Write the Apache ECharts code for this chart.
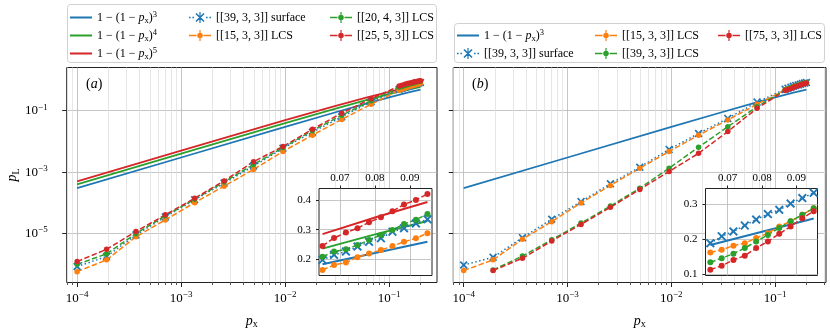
<!DOCTYPE html>
<html>
<head>
<meta charset="utf-8">
<script src="https://cdn.jsdelivr.net/npm/echarts@6/dist/echarts.min.js"></script>
<style>
  html, body { margin: 0; padding: 0; background: #fff; }
  #chart { width: 830px; height: 332px; }
</style>
</head>
<body>
<div id="chart"></div>
<script>
// ---- data (main panels, log-log) ----
const pxMain = [1e-4, 1.92e-4, 3.68e-4, 7.05e-4, 1.35e-3, 2.59e-3, 4.97e-3, 9.53e-3, 1.83e-2, 3.5e-2, 6.7e-2,
  0.125, 0.133, 0.142, 0.15, 0.158, 0.167, 0.175, 0.183, 0.192, 0.2]

// panel (a)
const aSurface = [8.5e-7, 1.8e-6, 9.1e-6, 3.5e-5, 1.26e-4, 4.4e-4, 1.58e-3, 6.0e-3, 2.0e-2, 6.3e-2, 0.195,
  0.50, 0.54, 0.575, 0.615, 0.65, 0.69, 0.72, 0.76, 0.79, 0.83]
const aLcs15 = [5.8e-7, 1.4e-6, 7.9e-6, 2.8e-5, 1.02e-4, 3.5e-4, 1.23e-3, 4.7e-3, 1.6e-2, 5.2e-2, 0.162,
  0.46, 0.50, 0.535, 0.575, 0.615, 0.645, 0.675, 0.71, 0.74, 0.78]
const aLcs20 = [1.0e-6, 2.2e-6, 1.0e-5, 3.8e-5, 1.32e-4, 4.8e-4, 1.78e-3, 6.3e-3, 2.24e-2, 7.1e-2, 0.209,
  0.575, 0.615, 0.66, 0.70, 0.74, 0.775, 0.81, 0.85, 0.89, 0.91]
const aLcs25 = [1.23e-6, 3.1e-6, 1.17e-5, 4.1e-5, 1.41e-4, 5.2e-4, 2.2e-3, 6.8e-3, 2.5e-2, 8.3e-2, 0.245,
  0.63, 0.675, 0.72, 0.76, 0.80, 0.83, 0.87, 0.89, 0.93, 0.95]

// panel (b)
const bSurface = [9.5e-7, 1.7e-6, 7.4e-6, 2.95e-5, 1.1e-4, 4.2e-4, 1.45e-3, 5.5e-3, 1.82e-2, 5.6e-2, 0.19,
  0.50, 0.54, 0.58, 0.62, 0.66, 0.69, 0.72, 0.76, 0.79, 0.83]
const bLcs15 = [6.3e-7, 1.4e-6, 6.6e-6, 2.45e-5, 1.0e-4, 3.7e-4, 1.35e-3, 4.7e-3, 1.6e-2, 5.0e-2, 0.162,
  0.48, 0.52, 0.56, 0.60, 0.64, 0.68, 0.71, 0.75, 0.78, 0.81]
const bLcs39 = [null, 6.6e-7, 1.86e-6, 6.3e-6, 2.2e-5, 7.9e-5, 3.0e-4, 1.35e-3, 6.5e-3, 3.0e-2, 0.135,
  0.47, 0.51, 0.55, 0.59, 0.63, 0.67, 0.71, 0.75, 0.78, 0.82]
const bLcs75 = [null, 6.3e-7, 1.58e-6, 5.8e-6, 2.0e-5, 7.2e-5, 2.75e-4, 1.05e-3, 4.1e-3, 2.1e-2, 0.12,
  0.45, 0.49, 0.53, 0.57, 0.61, 0.65, 0.69, 0.73, 0.77, 0.80]

// 1 - (1 - px)^n, read at a few px
const pxTheory = [1e-4, 1e-3, 1e-2, 0.03, 0.06, 0.1, 0.15, 0.2]
const theory3 = [3.0e-4, 3.0e-3, 0.0297, 0.0873, 0.169, 0.271, 0.386, 0.488]
const theory4 = [4.0e-4, 4.0e-3, 0.0394, 0.115, 0.219, 0.344, 0.478, 0.590]
const theory5 = [5.0e-4, 5.0e-3, 0.049, 0.141, 0.266, 0.410, 0.556, 0.672]

// ---- insets (linear) ----
const pxInset = [0.065, 0.0683, 0.0717, 0.075, 0.0783, 0.0817, 0.085, 0.0883, 0.0917, 0.095]
const aInSurface = [0.198, 0.215, 0.226, 0.243, 0.259, 0.271, 0.293, 0.305, 0.321, 0.335]
const aInLcs15 = [0.164, 0.181, 0.189, 0.207, 0.220, 0.231, 0.245, 0.259, 0.271, 0.288]
const aInLcs20 = [0.209, 0.226, 0.234, 0.248, 0.265, 0.282, 0.299, 0.319, 0.333, 0.353]
const aInLcs25 = [0.245, 0.272, 0.290, 0.305, 0.325, 0.342, 0.362, 0.385, 0.400, 0.420]
const bInSurface = [0.188, 0.208, 0.222, 0.239, 0.256, 0.272, 0.284, 0.302, 0.318, 0.333]
const bInLcs15 = [0.161, 0.169, 0.181, 0.188, 0.203, 0.217, 0.236, 0.251, 0.270, 0.289]
const bInLcs39 = [0.133, 0.145, 0.158, 0.174, 0.193, 0.212, 0.232, 0.251, 0.270, 0.289]
const bInLcs75 = [0.112, 0.123, 0.140, 0.152, 0.174, 0.193, 0.215, 0.236, 0.260, 0.280]
const pxInTheory = [0.065, 0.08, 0.095]
const inTheory3 = [0.183, 0.221, 0.259]
const inTheory4 = [0.236, 0.284, 0.329]
const inTheory5 = [0.285, 0.341, 0.393]

// ---- ticks ----
const xMajor = [-4, -3, -2, -1]   // log10(px)
const yMajor = [-5, -3, -1]       // log10(pL)
const xMinor = []
for (let d = -5; d <= -1; d++) {
  for (let k = 2; k <= 9; k++) xMinor.push(d + Math.log10(k))
}
const insetXTicks = [0.07, 0.08, 0.09]
const aInsetYTicks = [0.2, 0.3, 0.4]
const bInsetYTicks = [0.1, 0.2, 0.3]

// ---- styling ----
const serif = 'Liberation Serif'
const C = { blue: '#1f77b4', orange: '#ff7f0e', green: '#2ca02c', red: '#d62728' }
const xMarker = 'path://M1.5,0L5,3.5L8.5,0L10,1.5L6.5,5L10,8.5L8.5,10L5,6.5L1.5,10L0,8.5L3.5,5L0,1.5Z'

const powRich = {
  b: { fontFamily: serif, fontSize: 13, lineHeight: 16, color: '#000' },
  s: { fontFamily: serif, fontSize: 9, lineHeight: 9, verticalAlign: 'top', color: '#000' },
}
const powLabel = (v) => `{b|10}{s|−${Math.abs(Math.round(v))}}`
const nameRich = {
  i: { fontFamily: serif, fontSize: 14, fontStyle: 'italic', lineHeight: 17, color: '#000' },
  sub: { fontFamily: serif, fontSize: 10, lineHeight: 10, verticalAlign: 'bottom', color: '#000' },
}

const logData = (xs, ys) => xs
  .map((x, i) => [x, ys[i]])
  .filter((d) => d[1] != null)
  .map(([x, y]) => [Math.log10(x), Math.log10(y)])
const linData = (xs, ys) => xs.map((x, i) => [x, ys[i]])

// series names -> legend text
const N = {
  t3: '1-(1-px)^3', t4: '1-(1-px)^4', t5: '1-(1-px)^5',
  surf: '[[39,3,3]] surface',
  l15: '[[15,3,3]] LCS', l20: '[[20,4,3]] LCS', l25: '[[25,5,3]] LCS',
  l39: '[[39,3,3]] LCS', l75: '[[75,3,3]] LCS',
}
const legendText = {
  [N.t3]: '{n|1 − (1 − }{i|p}{sub|x}{n|)}{sup|3}',
  [N.t4]: '{n|1 − (1 − }{i|p}{sub|x}{n|)}{sup|4}',
  [N.t5]: '{n|1 − (1 − }{i|p}{sub|x}{n|)}{sup|5}',
  [N.surf]: '[[39, 3, 3]] surface',
  [N.l15]: '[[15, 3, 3]] LCS',
  [N.l20]: '[[20, 4, 3]] LCS',
  [N.l25]: '[[25, 5, 3]] LCS',
  [N.l39]: '[[39, 3, 3]] LCS',
  [N.l75]: '[[75, 3, 3]] LCS',
}
const legendRich = {
  n: { fontFamily: serif, fontSize: 12, lineHeight: 15, color: '#000' },
  i: { fontFamily: serif, fontSize: 12, fontStyle: 'italic', lineHeight: 15, color: '#000' },
  sub: { fontFamily: serif, fontSize: 8.5, lineHeight: 9, verticalAlign: 'bottom', color: '#000' },
  sup: { fontFamily: serif, fontSize: 8.5, lineHeight: 9, verticalAlign: 'top', color: '#000' },
}

// legend icons, drawn in a 22x12 box (corner specks keep the box size)
const guard = 'M0,0h0.01v0.01h-0.01Z M21.99,11.99h0.01v0.01h-0.01Z '
const iconLine = 'path://' + guard + 'M0,5.1H22V6.9H0Z'
const iconLcs = 'path://' + guard +
  'M0,5.2H7.5V6.8H0Z M14.5,5.2H22V6.8H14.5Z ' +
  'M8.2,6A2.8,2.8 0 1 1 13.8,6A2.8,2.8 0 1 1 8.2,6Z M10.4,0.5H11.6V11.5H10.4Z'
const iconSurf = 'path://' + guard +
  'M0,5.3h1.6v1.4h-1.6Z M3.4,5.3h1.6v1.4h-1.6Z M17,5.3h1.6v1.4h-1.6Z M20.4,5.3h1.6v1.4h-1.6Z ' +
  'M7.57,1.43L15.57,9.43L14.43,10.57L6.43,2.57Z M14.43,1.43L15.57,2.57L7.57,10.57L6.43,9.43Z ' +
  'M10.4,0.5H11.6V11.5H10.4Z'
const iconOf = (name) => name.startsWith('1-') ? iconLine : (name.includes('surface') ? iconSurf : iconLcs)

// ---- series builders ----
function theory(name, color, xi, yi, data, z, width) {
  return {
    name, type: 'line', xAxisIndex: xi, yAxisIndex: yi, data, z,
    symbol: 'none', silent: true,
    lineStyle: { color, width },
    itemStyle: { color },
  }
}
function surface(name, xi, yi, data, z, size) {
  return {
    name, type: 'line', xAxisIndex: xi, yAxisIndex: yi, data, z,
    symbol: xMarker, symbolSize: size, silent: true,
    lineStyle: { color: C.blue, width: 1.5, type: [1.5, 2.5] },
    itemStyle: { color: C.blue, borderWidth: 0 },
  }
}
function lcs(name, color, xi, yi, data, z, size) {
  return {
    name, type: 'line', xAxisIndex: xi, yAxisIndex: yi, data, z,
    symbol: 'circle', symbolSize: size, silent: true,
    lineStyle: { color, width: 1.5, type: [5.5, 2.4] },
    itemStyle: { color, borderWidth: 0 },
  }
}

// ---- axes ----
function mainX(gridIndex, min, max) {
  return {
    type: 'value', gridIndex, min, max, position: 'bottom',
    axisLine: { show: false, onZero: false },
    axisTick: { customValues: xMajor, length: 4.5, lineStyle: { color: '#222', width: 1 } },
    axisLabel: { customValues: xMajor, formatter: powLabel, rich: powRich, margin: 8 },
    splitLine: { show: true, lineStyle: { color: '#b8b8b8', width: 0.8 } },
    name: '{i|p}{sub|x}', nameLocation: 'middle', nameGap: 30,
    nameTextStyle: { rich: nameRich },
  }
}
function minorX(gridIndex, min, max) {
  return {
    type: 'value', gridIndex, min, max, position: 'bottom',
    axisLine: { show: false, onZero: false },
    axisTick: { customValues: xMinor, length: 2.5, lineStyle: { color: '#222', width: 0.8 } },
    axisLabel: { show: false },
    splitLine: { show: true, lineStyle: { color: '#e0e0e0', width: 0.8 } },
  }
}
function mainY(gridIndex, withLabels) {
  return {
    type: 'value', gridIndex, min: -6.59, max: 0.405,
    axisLine: { show: false, onZero: false },
    axisTick: { customValues: yMajor, length: 4.5, lineStyle: { color: '#222', width: 1 } },
    axisLabel: { show: withLabels, customValues: yMajor, formatter: powLabel, rich: powRich, margin: 19 },
    splitLine: { show: true, lineStyle: { color: '#b8b8b8', width: 0.8 } },
    name: withLabels ? '{i|p}{sub|L}' : '', nameLocation: 'middle', nameGap: 45,
    nameTextStyle: { rich: nameRich },
  }
}
function insetX(gridIndex, min, max) {
  return {
    type: 'value', gridIndex, min, max, position: 'top', z: 5,
    axisLine: { show: false, onZero: false },
    axisTick: { customValues: insetXTicks, length: 3, lineStyle: { color: '#222' } },
    axisLabel: {
      customValues: insetXTicks, formatter: (v) => v.toFixed(2), margin: 5,
      fontFamily: serif, fontSize: 11, color: '#000',
    },
    splitLine: { show: true, lineStyle: { color: '#b8b8b8', width: 0.8 } },
  }
}
function insetY(gridIndex, min, max, ticks) {
  return {
    type: 'value', gridIndex, min, max, z: 5,
    axisLine: { show: false, onZero: false },
    axisTick: { customValues: ticks, length: 3, lineStyle: { color: '#222' } },
    axisLabel: {
      customValues: ticks, formatter: (v) => v.toFixed(1), margin: 8,
      fontFamily: serif, fontSize: 11, color: '#000',
    },
    splitLine: { show: true, lineStyle: { color: '#b8b8b8', width: 0.8 } },
  }
}

// ---- legends ----
function legendCol(left, top, names) {
  return {
    orient: 'vertical', left, top, padding: 0, itemGap: 3,
    itemWidth: 22, itemHeight: 12, selectedMode: false, z: 5,
    itemStyle: { borderWidth: 0 },
    data: names.map((name) => ({ name, icon: iconOf(name) })),
    formatter: (name) => legendText[name] || name,
    textStyle: { fontFamily: serif, fontSize: 12, lineHeight: 15, color: '#000', rich: legendRich },
  }
}

const chart = echarts.init(document.getElementById('chart'))

const option = {
  animation: false,
  backgroundColor: '#fff',
  grid: [
    { left: 66.7, top: 67.5, width: 370.3, height: 215, show: true, borderColor: '#222', borderWidth: 1, outerBoundsMode: 'none' },
    { left: 453.3, top: 67.5, width: 372.7, height: 215, show: true, borderColor: '#222', borderWidth: 1, outerBoundsMode: 'none' },
    { left: 319, top: 188.5, width: 113, height: 87, show: true, backgroundColor: '#fff', borderColor: '#222', borderWidth: 1, z: 4, outerBoundsMode: 'none' },
    { left: 705.5, top: 188.5, width: 112, height: 87, show: true, backgroundColor: '#fff', borderColor: '#222', borderWidth: 1, z: 4, outerBoundsMode: 'none' },
  ],
  xAxis: [
    mainX(0, -4.1, -0.54),
    minorX(0, -4.1, -0.54),
    mainX(1, -4.1, -0.51),
    minorX(1, -4.1, -0.51),
    insetX(2, 0.064, 0.0963),
    insetX(3, 0.0636, 0.0961),
  ],
  yAxis: [
    mainY(0, true),
    mainY(1, false),
    insetY(2, 0.1454, 0.4388, aInsetYTicks),
    insetY(3, 0.0951, 0.3455, bInsetYTicks),
  ],
  legend: [
    legendCol(70, 10, [N.t3, N.t4, N.t5]),
    legendCol(189, 10, [N.surf, N.l15]),
    legendCol(330, 10, [N.l20, N.l25]),
    legendCol(457, 28, [N.t3, N.surf]),
    legendCol(595, 28, [N.l15, N.l39]),
    legendCol(718, 28, [N.l75]),
  ],
  graphic: [
    { type: 'rect', z: 1, shape: { x: 67.5, y: 4.5, width: 369, height: 58, r: 3 },
      style: { fill: 'rgba(255,255,255,0.8)', stroke: '#d0d0d0', lineWidth: 1 } },
    { type: 'rect', z: 1, shape: { x: 454.5, y: 23.5, width: 370, height: 39, r: 3 },
      style: { fill: 'rgba(255,255,255,0.8)', stroke: '#d0d0d0', lineWidth: 1 } },
    { type: 'text', left: 86, top: 77, z: 3,
      style: { text: '{n|(}{i|a}{n|)}', rich: {
        n: { fontFamily: serif, fontSize: 14, color: '#000' },
        i: { fontFamily: serif, fontSize: 14, fontStyle: 'italic', color: '#000' } } } },
    { type: 'text', left: 472, top: 77, z: 3,
      style: { text: '{n|(}{i|b}{n|)}', rich: {
        n: { fontFamily: serif, fontSize: 14, color: '#000' },
        i: { fontFamily: serif, fontSize: 14, fontStyle: 'italic', color: '#000' } } } },
  ],
  series: [
    // (a) main
    theory(N.t3, C.blue, 0, 0, logData(pxTheory, theory3), 2, 1.8),
    theory(N.t4, C.green, 0, 0, logData(pxTheory, theory4), 2, 1.8),
    theory(N.t5, C.red, 0, 0, logData(pxTheory, theory5), 2, 1.8),
    surface(N.surf, 0, 0, logData(pxMain, aSurface), 2, 8),
    lcs(N.l15, C.orange, 0, 0, logData(pxMain, aLcs15), 2, 5.5),
    lcs(N.l20, C.green, 0, 0, logData(pxMain, aLcs20), 2, 5.5),
    lcs(N.l25, C.red, 0, 0, logData(pxMain, aLcs25), 2, 5.5),
    // (b) main
    theory(N.t3, C.blue, 2, 1, logData(pxTheory, theory3), 2, 1.8),
    surface(N.surf, 2, 1, logData(pxMain, bSurface), 2, 8),
    lcs(N.l15, C.orange, 2, 1, logData(pxMain, bLcs15), 2, 5.5),
    lcs(N.l39, C.green, 2, 1, logData(pxMain, bLcs39), 2, 5.5),
    lcs(N.l75, C.red, 2, 1, logData(pxMain, bLcs75), 2, 5.5),
    // (a) inset
    theory(N.t3, C.blue, 4, 2, linData(pxInTheory, inTheory3), 6, 2),
    theory(N.t4, C.green, 4, 2, linData(pxInTheory, inTheory4), 6, 2),
    theory(N.t5, C.red, 4, 2, linData(pxInTheory, inTheory5), 6, 2),
    surface(N.surf, 4, 2, linData(pxInset, aInSurface), 6, 9),
    lcs(N.l15, C.orange, 4, 2, linData(pxInset, aInLcs15), 6, 6),
    lcs(N.l20, C.green, 4, 2, linData(pxInset, aInLcs20), 6, 6),
    lcs(N.l25, C.red, 4, 2, linData(pxInset, aInLcs25), 6, 6),
    // (b) inset
    theory(N.t3, C.blue, 5, 3, linData(pxInTheory, inTheory3), 6, 2),
    surface(N.surf, 5, 3, linData(pxInset, bInSurface), 6, 9),
    lcs(N.l15, C.orange, 5, 3, linData(pxInset, bInLcs15), 6, 6),
    lcs(N.l39, C.green, 5, 3, linData(pxInset, bInLcs39), 6, 6),
    lcs(N.l75, C.red, 5, 3, linData(pxInset, bInLcs75), 6, 6),
  ],
}

chart.setOption(option)
</script>
</body>
</html>
